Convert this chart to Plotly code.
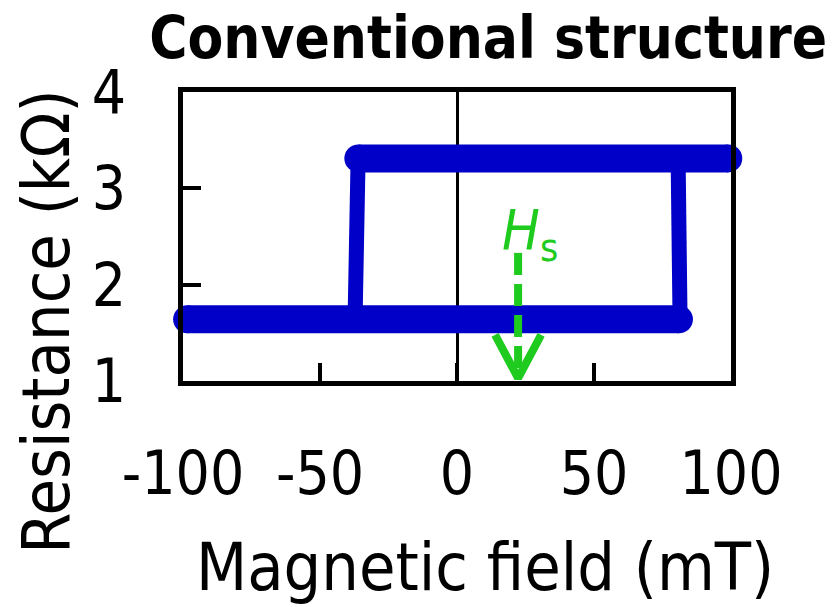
import plotly.graph_objects as go

# ---- data ----
upper_field = [-36, 99]          # mT, high-resistance branch
upper_R = [3.31, 3.31]           # kOhm
lower_field = [-98.5, 81]        # mT, low-resistance branch
lower_R = [1.64, 1.64]
switch_left_field = [-37.2, -36.1]
switch_left_R = [1.64, 3.31]
switch_right_field = [81.4, 80.7]
switch_right_R = [1.64, 3.31]

hs_field = 22.3                  # position of the Hs arrow
hs_R_top = 2.33
hs_R_tip = 1.03

x_ticks = [-100, -50, 0, 50, 100]
y_ticks = [1, 2, 3, 4]

BLUE = "#0000C8"
GREEN = "#1ECB1E"
FONT = "DejaVu Sans Condensed, DejaVu Sans, sans-serif"

fig = go.Figure()

# thick branches with round caps (markers at ends)
for fx, ry in [(lower_field, lower_R), (upper_field, upper_R)]:
    fig.add_trace(go.Scatter(
        x=fx, y=ry, mode="lines+markers",
        line=dict(color=BLUE, width=28),
        marker=dict(color=BLUE, size=28, line=dict(width=0)),
        cliponaxis=False, showlegend=False, hoverinfo="skip"))

# switching steps
for fx, ry in [(switch_left_field, switch_left_R), (switch_right_field, switch_right_R)]:
    fig.add_trace(go.Scatter(
        x=fx, y=ry, mode="lines",
        line=dict(color=BLUE, width=15),
        cliponaxis=False, showlegend=False, hoverinfo="skip"))

# Hs dashed arrow
fig.add_trace(go.Scatter(
    x=[hs_field, hs_field], y=[hs_R_top, hs_R_tip + 0.05], mode="lines",
    line=dict(color=GREEN, width=8, dash="22px,9px"),
    showlegend=False, hoverinfo="skip"))
# chevron head (offsets derived from arrow size)
dx = 8.4
dy = 0.45
fig.add_trace(go.Scatter(
    x=[hs_field - dx, hs_field, hs_field + dx],
    y=[hs_R_tip + dy, hs_R_tip, hs_R_tip + dy], mode="lines",
    line=dict(color=GREEN, width=8),
    showlegend=False, hoverinfo="skip"))

fig.add_annotation(
    x=hs_field, y=hs_R_top, xref="x", yref="y",
    text="<i>H</i><sub>s</sub>", showarrow=False,
    xanchor="center", yanchor="bottom", xshift=12, yshift=-19,
    font=dict(family=FONT, size=56, color=GREEN))

# axis titles placed as in the reference (not centred on the plot area)
fig.add_annotation(
    x=0.551, y=-0.645, xref="paper", yref="paper",
    text="Magnetic field (mT)", showarrow=False,
    xanchor="center", yanchor="middle",
    font=dict(family=FONT, size=66, color="black"))
fig.add_annotation(
    x=-0.248, y=0.205, xref="paper", yref="paper",
    text="Resistance (kΩ)", showarrow=False, textangle=-90,
    xanchor="center", yanchor="middle",
    font=dict(family=FONT, size=66, color="black"))

# the page body adds an 8px offset, so the figure is 8px smaller
fig.update_layout(
    width=825, height=599,
    paper_bgcolor="white", plot_bgcolor="white",
    margin=dict(l=175, r=102, t=84, b=226, autoexpand=False),
    font=dict(family=FONT, color="black"),
    title=dict(text="<b>Conventional structure</b>", x=0.582, xanchor="center",
               y=0.95, yanchor="middle", font=dict(family=FONT, size=58, color="black")),
    showlegend=False,
)

fig.update_xaxes(
    range=[-100, 100], tickvals=x_ticks, ticktext=[str(v) for v in x_ticks],
    showline=True, mirror=True, linecolor="black", linewidth=5,
    ticks="inside", ticklen=18, tickwidth=4, tickcolor="black",
    showgrid=False, zeroline=True, zerolinecolor="black", zerolinewidth=3,
    tickfont=dict(family=FONT, size=60, color="black"),
    ticklabelstandoff=36,
    automargin=False,
)
fig.update_yaxes(
    range=[1, 4], tickvals=y_ticks, ticktext=[str(v) for v in y_ticks],
    showline=True, mirror=True, linecolor="black", linewidth=5,
    ticks="inside", ticklen=18, tickwidth=4, tickcolor="black",
    showgrid=False, zeroline=False,
    tickfont=dict(family=FONT, size=60, color="black"),
    ticklabelstandoff=40,
    automargin=False,
)

fig.write_html("out.html")
